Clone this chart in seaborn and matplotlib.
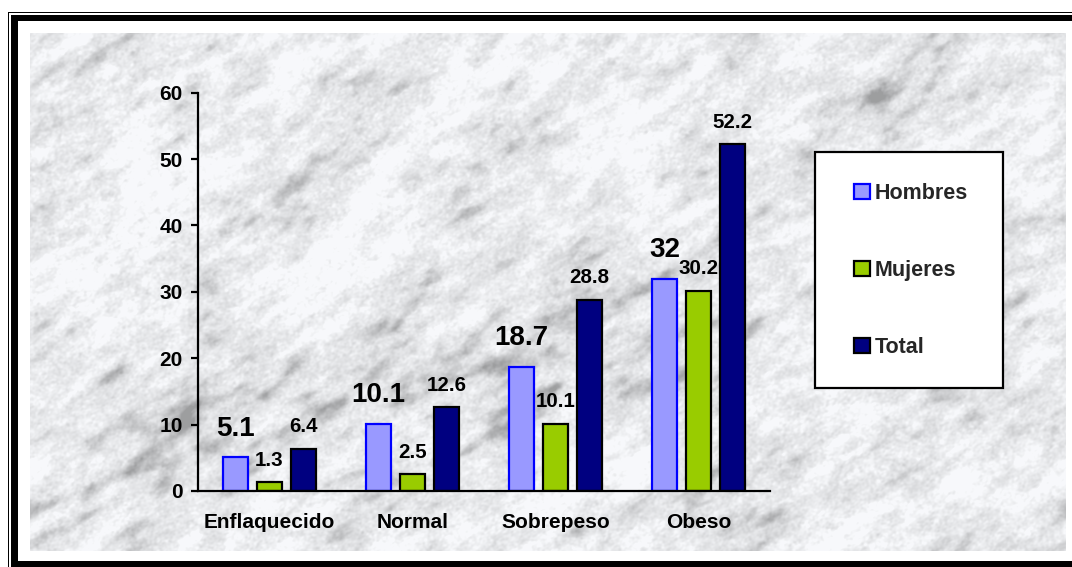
import numpy as np
import pandas as pd
import matplotlib
matplotlib.use("Agg")
import matplotlib.pyplot as plt
from matplotlib.patches import Rectangle
import seaborn as sns

# ---- data ----
categories = ["Enflaquecido", "Normal", "Sobrepeso", "Obeso"]
series_names = ["Hombres", "Mujeres", "Total"]
hombres = [5.1, 10.1, 18.7, 32]
mujeres = [1.3, 2.5, 10.1, 30.2]
total = [6.4, 12.6, 28.8, 52.2]
y_ticks = [0, 10, 20, 30, 40, 50, 60]

fill_colors = {"Hombres": "#9999FF", "Mujeres": "#99CC00", "Total": "#000080"}
edge_colors = {"Hombres": "#0000FF", "Mujeres": "#000000", "Total": "#000000"}

df = pd.DataFrame({
    "categoria": categories * 3,
    "grupo": [s for s in series_names for _ in categories],
    "valor": hombres + mujeres + total,
})

sns.set_theme(style="white")
plt.rcParams["font.family"] = ["Liberation Sans", "DejaVu Sans"]
plt.rcParams["font.weight"] = "bold"

W, H = 1072, 567
fig = plt.figure(figsize=(W / 100, H / 100), dpi=100, facecolor="white")


def fig_box(left, top, right, bottom):
    """Pixel box -> (x, y, w, h) in figure fractions."""
    return left / W, 1 - bottom / H, (right - left) / W, (bottom - top) / H


def px_rect(left, top, right, bottom, **kw):
    x, y, w, h = fig_box(left, top, right, bottom)
    r = Rectangle((x, y), w, h, transform=fig.transFigure, zorder=-5, **kw)
    fig.add_artist(r)
    return r


# frame: thin outer rule, white gap, heavy black band
px_rect(8, 12, 1100, 600, facecolor="black", edgecolor="none")
px_rect(9.4, 13.4, 1100, 600, facecolor="white", edgecolor="none")
px_rect(11, 15, 1100, 600, facecolor="black", edgecolor="none")
px_rect(18, 21, 1100, 561, facecolor="white", edgecolor="none")

# ---- marble backdrop ----
mx0, my0, mx1, my1 = 30, 33, 1066, 551
bg = fig.add_axes(fig_box(mx0, my0, mx1, my1))
bg.set_axis_off()
th, tw = my1 - my0, mx1 - mx0
rng = np.random.default_rng(11)
fyq = np.fft.fftfreq(th)[:, None]
fxq = np.fft.fftfreq(tw)[None, :]
ang = np.deg2rad(-32)
u = fxq * np.cos(ang) + fyq * np.sin(ang)
v = -fxq * np.sin(ang) + fyq * np.cos(ang)


def streaks(s_long, s_short):
    n = rng.standard_normal((th, tw))
    filt = np.exp(-2 * np.pi ** 2 * ((u * s_long) ** 2 + (v * s_short) ** 2))
    f = np.real(np.fft.ifft2(np.fft.fft2(n) * filt))
    return (f - f.mean()) / f.std()


big = streaks(45, 22)
mid = streaks(14, 5)
small = streaks(5, 2.5)
fine = streaks(1.2, 1.0)
field = 0.45 * big + 0.6 * mid + 0.35 * small
grey = 0.915 - 0.03 * field - 0.085 * np.clip(field - 0.7, 0, None) ** 1.2 \
    + 0.025 * np.clip(-field, 0, 1.5) - 0.018 * fine
grey = np.clip(grey, 0.62, 0.975)
img = np.dstack([grey * 0.995, grey, grey * 1.01])
bg.imshow(np.clip(img, 0, 1), aspect="auto", interpolation="bilinear")

# ---- bars ----
ax = fig.add_axes(fig_box(198, 92.7, 770, 491))
ax.patch.set_alpha(0)
sns.barplot(data=df, x="categoria", y="valor", hue="grupo", order=categories,
            hue_order=series_names, palette=fill_colors, width=0.713, gap=0.265,
            linewidth=1.6, edgecolor="black", saturation=1, legend=False, ax=ax)

for name, cont in zip(series_names, ax.containers):
    big_label = name == "Hombres"
    for bar in cont:
        bar.set_edgecolor(edge_colors[name])
        h = bar.get_height()
        ax.annotate(f"{h:g}", (bar.get_x() + bar.get_width() / 2, h),
                    xytext=(0, 21.5 if big_label else 16.5), textcoords="offset pixels",
                    ha="center", va="baseline", fontsize=20 if big_label else 14.8,
                    fontweight="bold", color="black")

ax.set_xlim(-0.5, 3.5)
ax.set_ylim(0, 60)
ax.set_yticks(y_ticks)
ax.set_xlabel("")
ax.set_ylabel("")
for side in ("top", "right"):
    ax.spines[side].set_visible(False)
for side in ("left", "bottom"):
    ax.spines[side].set_color("black")
    ax.spines[side].set_linewidth(1.6)
ax.set_xticks(range(len(categories)))
ax.set_xticklabels(categories)
ax.set_xticks([-0.5, 0.5, 1.5, 2.5, 3.5], minor=True)
ax.tick_params(axis="x", which="major", length=0, pad=16, labelsize=15, colors="black")
ax.tick_params(axis="x", which="minor", length=5, width=1.6, direction="out", color="black")
ax.tick_params(axis="y", which="major", length=5, width=1.6, direction="out",
               pad=6, labelsize=15, colors="black", left=True)
for t in ax.get_xticklabels() + ax.get_yticklabels():
    t.set_fontweight("bold")

# legend panel: white box with black outline, entries placed inside it
lx, ly, lw_, lh = fig_box(815, 152, 1003, 388)
ax.add_patch(Rectangle((lx, ly), lw_, lh, transform=fig.transFigure, clip_on=False,
                       facecolor="white", edgecolor="black", linewidth=1.6, zorder=4))
leg = ax.legend(ax.containers, series_names, loc="upper left",
                bbox_to_anchor=(854 / W, 1 - 183 / H), bbox_transform=fig.transFigure,
                frameon=False, borderpad=0, labelspacing=2.6,
                handlelength=0.72, handleheight=0.72, handletextpad=0.25,
                borderaxespad=0, prop={"size": 15.5, "weight": "bold"})
leg.set_zorder(5)

fig.savefig("out.png", dpi=100, facecolor="white")
